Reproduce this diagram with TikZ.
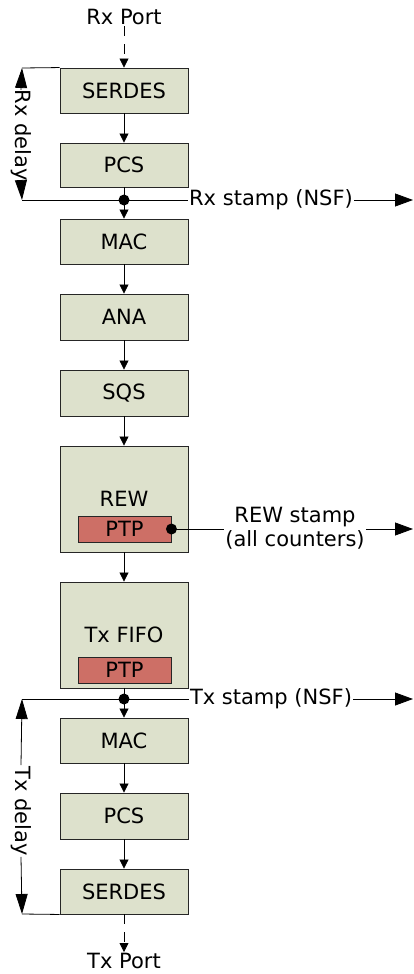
\documentclass[tikz,border=0pt]{standalone}
\usepackage{fontspec}
\setmainfont{DejaVu Sans}
\usetikzlibrary{arrows.meta}
\definecolor{boxfill}{HTML}{DDE1CC}
\definecolor{ptpfill}{HTML}{CD6F66}
\begin{document}
\begin{tikzpicture}[x=1pt,y=-1pt,
  font=\fontsize{21}{24}\selectfont,
  blk/.style={draw=black!85, fill=boxfill, line width=0.9pt, minimum width=128pt, inner sep=0pt},
  ptpbox/.style={draw=black!85, fill=ptpfill, line width=0.9pt, minimum width=93pt, minimum height=26pt, inner sep=0pt},
  flow/.style={line width=0.8pt, -{Triangle[length=9pt,width=9pt]}},
  port/.style={flow, dash pattern=on 10pt off 8pt},
  stamp/.style={line width=0.8pt, -{Triangle[length=18pt,width=13pt]}},
  delay/.style={line width=0.8pt, -{Triangle[length=20pt,width=12pt]}},
  plain/.style={line width=0.8pt},
  lbl/.style={inner sep=1pt},
  dot/.style={circle, fill=black, inner sep=0pt, minimum size=11pt},
]
\path[use as bounding box, fill=white] (0,0) rectangle (414,974);

% ports
\node[lbl] (rxport) at (124,17) {Rx Port};
\node[lbl] (txport) at (124,961) {Tx Port};

% blocks
\node[blk, minimum height=45pt] (serdes1) at (124,90.5) {SERDES};
\node[blk, minimum height=44pt] (pcs1) at (124,165) {PCS};
\node[blk, minimum height=45pt] (mac1) at (124,241.5) {MAC};
\node[blk, minimum height=46pt] (ana) at (124,317) {ANA};
\node[blk, minimum height=46pt] (sqs) at (124,393) {SQS};
\node[blk, minimum height=106pt] (rew) at (124,499) {REW};
\node[ptpbox] (ptp1) at (124.5,529) {PTP};
\node[blk, minimum height=106pt] (txfifo) at (124,635) {Tx FIFO};
\node[ptpbox] (ptp2) at (124.5,670) {PTP};
\node[blk, minimum height=45pt] (mac2) at (124,740.5) {MAC};
\node[blk, minimum height=46pt] (pcs2) at (124,816) {PCS};
\node[blk, minimum height=45pt] (serdes2) at (124,891.5) {SERDES};

% flow arrows
\draw[port] (rxport) -- (serdes1);
\draw[flow] (serdes1) -- (pcs1);
\draw[flow] (pcs1) -- (mac1);
\draw[flow] (mac1) -- (ana);
\draw[flow] (ana) -- (sqs);
\draw[flow] (sqs) -- (rew);
\draw[flow] (rew) -- (txfifo);
\draw[flow] (txfifo) -- (mac2);
\draw[flow] (mac2) -- (pcs2);
\draw[flow] (pcs2) -- (serdes2);
\draw[port] (serdes2) -- (txport);

% Rx delay
\coordinate (rxdt) at (22,68);
\coordinate (rxdb) at (22,200);
\draw[plain] (serdes1.north west) -- (rxdt);
\node[lbl, inner sep=0pt, rotate=-90] (rxd) at (21,135.5) {Rx delay};
\draw[delay] (rxd.west) -- (rxdt);
\draw[delay] (rxd.east) -- (rxdb);

% Rx stamp
\node[lbl] (rxs) at (271,200) {Rx stamp (NSF)};
\coordinate (rxe) at (413,200);
\draw[plain] (rxdb) -- (rxs.west);
\draw[stamp] (rxs.east) -- (rxe);
\node[dot] (d1) at (124,200) {};

% REW stamp
\node[lbl, align=center] (rews) at (295,528) {REW stamp\\(all counters)};
\coordinate (rewe) at (413,529);
\draw[plain] (ptp1.east) -- (ptp1.east -| rews.west);
\draw[stamp] (ptp1.east -| rews.east) -- (rewe);
\node[dot] (d2) at (ptp1.east) {};

% Tx stamp
\coordinate (txdt) at (22,699);
\coordinate (txdb) at (22,914);
\node[lbl] (txs) at (271,699) {Tx stamp (NSF)};
\coordinate (txe) at (413,699);
\draw[plain] (txdt) -- (txs.west);
\draw[stamp] (txs.east) -- (txe);
\node[dot] (d3) at (124,699) {};

% Tx delay
\draw[plain] (serdes2.south west) -- (txdb);
\node[lbl, rotate=-90] (txd) at (21,811) {Tx delay};
\draw[delay] (txd.west) -- (txdt);
\draw[delay] (txd.east) -- (txdb);
\end{tikzpicture}
\end{document}
